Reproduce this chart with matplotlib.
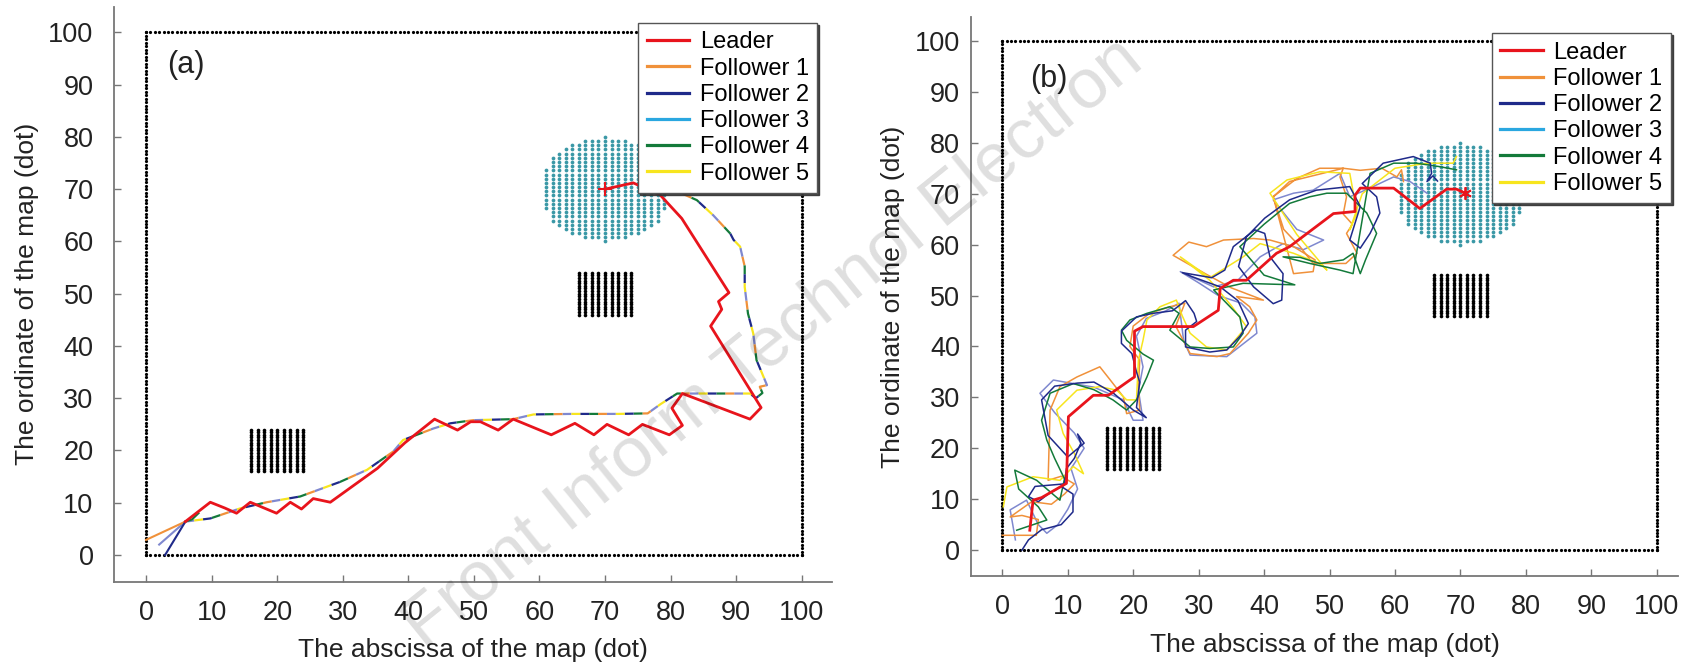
import numpy as np
import matplotlib.pyplot as plt
from matplotlib.lines import Line2D

plt.rcParams['font.family'] = ['Liberation Sans', 'DejaVu Sans']

# ---------------------------------------------
# Map
# ---------------------------------------------
map_size = 100
border_step = 2 / 3
obst1 = [16, 24, 16, 24]      # x0, x1, y0, y1
obst2 = [66, 74, 46, 54]
target = [70, 70, 10]         # cx, cy, r

names = ['Leader', 'Follower 1', 'Follower 2', 'Follower 3', 'Follower 4', 'Follower 5']
legend_colors = ['#e8141c', '#f0913a', '#1f2a8a', '#2aa7e0', '#137a3a', '#f7e51e']
line_colors = ['#e8141c', '#f0913a', '#1f2a8a', '#7f88cf', '#137a3a', '#f7e51e']

# ---------------------------------------------
# Panel (a)
# ---------------------------------------------
leader_a_x = [6, 9.8, 12, 13.8, 15.9, 19.9, 22.0, 23.7, 25.5, 28.1, 35.3, 39.5, 44.0, 47.5, 49.5,
              51, 53.7, 56.0, 61.8, 65.4, 68.3, 70.3, 73.6, 75.7, 79.8, 81.8, 80.2, 81.8, 92.1,
              93.8, 86.1, 87.8, 87.3, 88.9, 81.7, 78.4, 74.3, 70.0]
leader_a_y = [6.4, 10.1, 9.0, 8.0, 10.1, 8.0, 10.1, 8.8, 10.8, 10.1, 16.6, 21.5, 26.0, 23.9, 25.5,
              25.5, 23.9, 26.0, 23.0, 25.2, 23.0, 25.0, 23.0, 25.0, 23.0, 24.8, 28.1, 30.9, 26.0,
              28.2, 43.8, 47.0, 48.5, 50.2, 64.4, 68.9, 71.2, 70.0]

route_a_x = [6, 9.8, 14.3, 18.4, 23.5, 29.6, 33.7, 37.7, 39.2, 43.8, 46.4, 49.9, 56, 59.1, 65,
             72, 76.5, 78.5, 81, 92.1, 93, 94, 93.6, 94.7, 93.1, 92.6, 91.8, 91.3, 91.3, 90.6,
             89.6, 89.1, 86.5, 84.0, 82.2, 80, 78]
route_a_y = [6.4, 7.0, 8.9, 10.1, 11.2, 14.0, 16.3, 19.8, 22.0, 24.2, 25.2, 25.8, 26, 26.9, 27.0,
             27.0, 27.1, 28.9, 30.9, 30.9, 30, 31, 32.2, 32.5, 37.3, 42.4, 46.2, 51.3, 55.2, 59.0,
             60.3, 61.5, 65.0, 67.9, 68.9, 71, 72]

heads_a_x = [[0, 6], [2.9, 6], [2.0, 6], [8, 7, 6], [6, 6]]
heads_a_y = [[2.9, 6.4], [0, 6.4], [2.0, 6.4], [8, 6.8, 6.4], [6.4, 6.4]]

# ---------------------------------------------
# Panel (b)
# ---------------------------------------------
leader_b_x = [4.2, 4.7, 6.0, 9.8, 10.1, 13.9, 16.2, 19.5, 20.2, 20.2, 21.5, 29.2, 33.0, 33.3,
              35.3, 37.3, 41.9, 43.9, 50.6, 53.9, 53.9, 54.7, 59.8, 63.8, 67.9, 69.4, 70.7]
leader_b_y = [3.9, 9.8, 10.3, 13.1, 26.2, 30.4, 30.4, 33.4, 34, 43.0, 43.9, 43.9, 47.1, 51.4,
              53.0, 53.0, 58.3, 59.6, 66.1, 66.5, 69.7, 71.1, 71.1, 67.1, 70.9, 70.9, 70.1]

f1_b_x = [0, 5.2, 5.5, 3, 1.2, 4.5, 7.5, 9.5, 11, 9, 7, 7.3, 8.8, 11.4, 14.9, 16.5, 18.5, 19, 21,
          20.8, 21, 19.5, 20, 22.5, 25.6, 27.9, 26.5, 28.7, 32.8, 34.8, 37.6, 38.9, 37.8, 35.8,
          39.9, 35, 31, 26.1, 28.5, 31.2, 33.8, 38.4, 40.9, 44.5, 47.8, 47.5, 44.5, 41.4, 43.9,
          48, 52.1, 51.6, 52.6, 52.1, 53.5, 52.6, 54.2, 52.5, 47.5, 45.5, 43, 41.4, 45, 48.5,
          52.1, 54.7, 58, 60.3, 61, 61.3]
f1_b_y = [2.9, 2.9, 6, 6.8, 6.5, 9.5, 9.0, 11, 13, 14.5, 13.7, 27.5, 32.1, 34.0, 36.0, 33.4,
          30.1, 26.8, 27.5, 32.1, 37.3, 40, 44, 46.5, 47.8, 48.5, 44, 38.6, 38.0, 38.6, 42.6,
          45.2, 47.8, 49.8, 49.1, 51.5, 54.3, 57.9, 60.5, 59.6, 60.9, 61.2, 60.9, 59.6, 57,
          54.7, 54.3, 69.4, 72.4, 73.7, 75, 73.3, 69.4, 66, 64, 62.2, 58.3, 56.3, 56.3, 59.6,
          63, 69.4, 73, 75, 75, 74.6, 75, 73.3, 74.7, 72.4]

f2_b_x = [3, 4, 6, 9, 10.8, 10.8, 9, 7, 5.5, 4, 5, 9.5, 9.8, 11, 12, 11.5, 12.5, 10, 7, 6,
          8, 11.5, 14, 17, 20, 22, 20.5, 21, 20.5, 19.8, 18.2, 18.2, 20.5, 23, 26, 28, 29.3,
          29.7, 28, 28, 31.7, 34.3, 36.3, 37.6, 36, 33.3, 29, 27.5, 32, 34, 35.3, 38.6, 40.1,
          40.9, 42.9, 42.7, 41.4, 38.4, 36.1, 37.3, 40.1, 43.9, 48, 53.1, 54.7, 53.1, 54.7,
          56.2, 57.7, 57.2, 55, 58.2, 62.8, 65.4, 65.6, 64.9, 65.8, 66.5]
f2_b_y = [0, 2, 4, 5, 7.5, 11, 12.5, 11, 9.5, 10.5, 12.5, 13, 16, 18, 21, 22.8, 21, 18.3, 22.5,
          29.5, 32.2, 32.8, 33, 30.8, 27.5, 26, 28, 33, 35, 38.6, 40.6, 43, 45.8, 46.5, 47, 49,
          46.5, 44.9, 43.2, 39.9, 38.9, 39.3, 42, 44.5, 49, 51.7, 53.7, 54.5, 53.5, 55, 59.6,
          62.9, 62.2, 57.6, 54.3, 49.1, 48.4, 51.7, 55.7, 61.5, 65.2, 68.8, 70.7, 71.4, 67.5,
          60.9, 59.3, 62.2, 66.2, 69.4, 72, 76, 77.3, 76, 74, 72.4, 73.5, 72.5]

f3_b_x = [2, 1.2, 3.7, 5.5, 6.8, 8.5, 10, 11.5, 10.5, 12.5, 11, 8, 5.75, 7.8, 10.85, 14, 18.5,
          20, 21.5, 20.8, 21.5, 20.5, 22, 25, 27, 27.7, 28.7, 34.3, 38.9, 38.6, 36.5, 33, 30,
          27.2, 32.3, 36, 39.4, 42.9, 46, 49.1, 45, 41.4, 44.5, 47.5, 51.6, 53.1, 56, 59.8,
          62.3, 64.9]
f3_b_y = [2, 7.9, 9.8, 5, 3.3, 5, 8, 12, 16, 20, 23, 27, 30.8, 33.4, 32.7, 32, 29.5, 25.5, 25.5,
          31.4, 36, 42, 45.5, 47, 48.5, 41.2, 38.3, 38, 42.6, 45.8, 48.5, 50, 52.5, 54.7, 51.7,
          53, 57.6, 60.2, 59, 60.9, 63, 68.8, 70.1, 70.7, 74, 69.4, 71, 73.3, 72.4, 70.1]

f4_b_x = [2.2, 6.8, 5.5, 2.5, 1.9, 5.25, 8.8, 9.5, 8, 6.8, 6.0, 7.3, 10.85, 14, 16.9, 19, 20.5,
          22.1, 23.1, 21.5, 19, 18.2, 19.5, 22.1, 25.6, 27, 25.6, 28.7, 31.7, 35.3, 36.8, 36.3,
          32.3, 36.8, 44.7, 40, 36.3, 40, 43.9, 47, 49.6, 52.6, 55.7, 57.2, 55.5, 54.7, 53.6,
          52.1, 48.5, 45.5, 42.9, 47, 51.6, 53.6, 56.2, 59.8, 63.3, 66.9, 69.4]
f4_b_y = [3.9, 5.9, 8.5, 12, 15.7, 13.7, 9.8, 14, 18, 21.6, 25.5, 30.8, 32.7, 31.5, 29.5, 27.5,
          29.5, 34.0, 37.3, 38.5, 41.2, 43.2, 45.2, 46.5, 47.8, 46.5, 43.2, 39.9, 39.6, 39.9,
          42.6, 45.8, 51.1, 52.4, 52.1, 54, 59.6, 64, 68.1, 69.4, 70.1, 70.1, 66.2, 62.2, 57,
          54.3, 58.3, 57, 56.3, 57.5, 57.6, 56.3, 55, 54.3, 74, 76, 76, 75.3, 74.7]

f5_b_x = [0.15, 0.7, 4.7, 8.8, 10.85, 12.4, 11, 9.3, 8.3, 11.4, 14.9, 17.5, 19, 20.5, 20.8,
          21.5, 22.1, 24.1, 26.6, 27.5, 28.7, 31.2, 34.3, 37.3, 35, 31.7, 27.2, 31.7, 36.8,
          39.4, 44.5, 48.5, 49.6, 45, 40.9, 43.5, 48.5, 53.1, 54.2, 53.1, 55, 60, 64.9, 68.9,
          69.4]
f5_b_y = [8.5, 12.4, 14.4, 13.7, 16.4, 15, 19, 22.9, 27.5, 31.4, 32.1, 31.4, 29.5, 29.5, 37.3,
          41.2, 45.2, 47.8, 49.1, 46, 42.6, 39.9, 39.3, 43.9, 48, 53, 57.6, 53.5, 57.6, 60.2,
          58.3, 56.3, 55, 62, 70.1, 72.7, 74.3, 74, 66.2, 62.9, 70, 75, 76, 76, 77.3]

followers_b_x = [f1_b_x, f2_b_x, f3_b_x, f4_b_x, f5_b_x]
followers_b_y = [f1_b_y, f2_b_y, f3_b_y, f4_b_y, f5_b_y]


# ---------------------------------------------
# Helpers
# ---------------------------------------------
def draw_map(ax):
    b = np.linspace(0, map_size, int(map_size / border_step) + 1)
    zeros = np.zeros_like(b)
    full = np.full_like(b, map_size)
    bx = np.concatenate([b, b, zeros, full])
    by = np.concatenate([zeros, full, b, b])
    ax.plot(bx, by, 'o', color='black', ms=2.3, mew=0, zorder=1)

    for x0, x1, y0, y1 in (obst1, obst2):
        gx, gy = np.meshgrid(np.arange(x0, x1 + 1, 1.0), np.arange(y0, y1 + 0.01, 0.5))
        ax.plot(gx.ravel(), gy.ravel(), 'o', color='black', ms=2.6, mew=0, zorder=1)

    cx, cy, r = target
    gx, gy = np.meshgrid(np.arange(cx - r, cx + r + 0.01, 1.0), np.arange(cy - r, cy + r + 0.01, 0.8))
    inside = (gx - cx) ** 2 + (gy - cy) ** 2 <= r ** 2 + 0.01
    ax.plot(gx[inside], gy[inside], 'o', color='#3a98a6', ms=2.7, mew=0, zorder=1)


def style_axes(ax, xlim, ylim, ypad):
    ax.set_xlim(*xlim)
    ax.set_ylim(*ylim)
    for s in ('top', 'right'):
        ax.spines[s].set_visible(False)
    for s in ('left', 'bottom'):
        ax.spines[s].set_color('#777777')
        ax.spines[s].set_linewidth(1.3)
    ax.set_xticks(range(0, 101, 10))
    ax.set_yticks(range(0, 101, 10))
    ax.tick_params(axis='both', direction='in', length=5, width=1, color='#777777',
                   labelsize=19.5, labelcolor='#222222')
    ax.tick_params(axis='x', pad=13)
    ax.tick_params(axis='y', pad=ypad)
    ax.set_xlabel('The abscissa of the map (dot)', fontsize=19, color='#222222', labelpad=9)
    ax.set_ylabel('The ordinate of the map (dot)', fontsize=19, color='#222222', labelpad=7)


def add_legend(ax, anchor):
    handles = [Line2D([], [], color=c, lw=2.3) for c in legend_colors]
    leg = ax.legend(handles, names, loc='upper right', bbox_to_anchor=anchor, borderaxespad=0,
                    fontsize=17, handlelength=1.8, handletextpad=0.45, labelspacing=0.18,
                    borderpad=0.35, fancybox=False, framealpha=1, edgecolor='#555555',
                    shadow={'ox': 1.5, 'oy': -1.5, 'color': '#333333', 'alpha': 0.9})
    leg.get_frame().set_linewidth(1.0)
    leg.set_zorder(10)


# ---------------------------------------------
# Figure
# ---------------------------------------------
fig = plt.figure(figsize=(16.92, 6.67), dpi=100)
ax_a = fig.add_axes([0.0676, 0.1279, 0.424, 0.862])
ax_b = fig.add_axes([0.5739, 0.1364, 0.4178, 0.838])

# (a)
draw_map(ax_a)
order = [2, 0, 3, 1, 4]   # follower indexes
dash_len = 4
for k, i in enumerate(order):
    ax_a.plot(heads_a_x[i], heads_a_y[i], color=line_colors[i + 1], lw=1.5, zorder=3)
    ax_a.plot(route_a_x, route_a_y, color=line_colors[i + 1], lw=1.6, zorder=3,
              linestyle=(k * dash_len, (dash_len, dash_len * 4)))
ax_a.plot(leader_a_x, leader_a_y, color=line_colors[0], lw=2.0, zorder=4)
ax_a.plot(leader_a_x[-1], leader_a_y[-1], marker='+', color=line_colors[0], ms=10, mew=1.5, zorder=5)
ax_a.text(3.2, 93.7, '(a)', fontsize=22, va='center', ha='left', color='#222222')
style_axes(ax_a, (-4.83, 104.58), (-5.1, 104.9), 15)
add_legend(ax_a, (0.9795, 0.9717))

# (b)
draw_map(ax_b)
for i in [2, 0, 4, 3, 1]:
    ax_b.plot(followers_b_x[i], followers_b_y[i], color=line_colors[i + 1], lw=1.1, zorder=3)
ax_b.plot(leader_b_x, leader_b_y, color=line_colors[0], lw=2.0, zorder=4)
ax_b.plot(leader_b_x[-1], leader_b_y[-1], marker=(6, 2, 0), color=line_colors[0], ms=9, mew=1.3, zorder=5)
ax_b.text(4.2, 92.5, '(b)', fontsize=22, va='center', ha='left', color='#222222')
style_axes(ax_b, (-4.78, 103.25), (-5.1, 104.7), 8)
add_legend(ax_b, (0.9897, 0.9708))

# watermark
fig.text(0.457, 0.485, 'Front Inform Technol Electron', fontsize=51, rotation=39,
         color='#000000', alpha=0.13, ha='center', va='center', zorder=20)

fig.savefig('out.png', dpi=100)
